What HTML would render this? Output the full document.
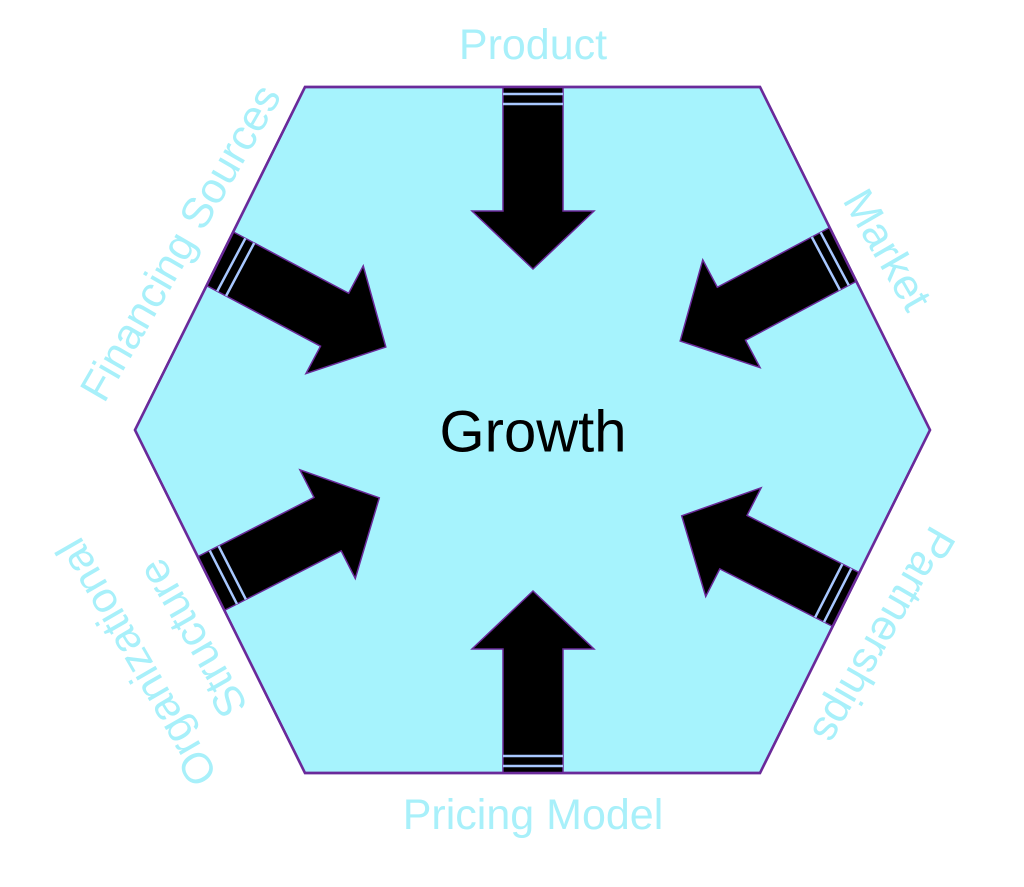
<!DOCTYPE html>
<html><head><meta charset="utf-8"><style>
html,body{margin:0;padding:0;background:#fff;}
svg{display:block;}
text{font-family:"Liberation Sans",sans-serif;}
.l{fill:#a8f0fa;font-size:43px;}
</style></head><body>
<svg width="1024" height="887" viewBox="0 0 1024 887" xmlns="http://www.w3.org/2000/svg">
<defs>
<clipPath id="hx"><polygon points="305,87 760,87 930,430 760,773 305,773 135,430"/></clipPath>
<g id="ar">
<path d="M-30,-15 L30,-15 L30,123 L61,123 L0,181 L-61,123 L-30,123 Z" fill="#000" stroke="#6a2a9a" stroke-width="1.5"/>
<line x1="-30" y1="6" x2="30" y2="6" stroke="#a8c8ff" stroke-width="2.5"/>
<line x1="-30" y1="16" x2="30" y2="16" stroke="#a8c8ff" stroke-width="2.5"/>
</g>
</defs>
<polygon points="305,87 760,87 930,430 760,773 305,773 135,430" fill="#a6f3fd" stroke="#6a2a9a" stroke-width="2.5"/>
<g clip-path="url(#hx)">
<use href="#ar" transform="translate(533,88)"/>
<use href="#ar" transform="translate(533,772) rotate(180)"/>
<use href="#ar" transform="translate(226,262) rotate(-62)"/>
<use href="#ar" transform="translate(840,256) rotate(62)"/>
<use href="#ar" transform="translate(218,580) rotate(-117)"/>
<use href="#ar" transform="translate(843,598) rotate(117)"/>
</g>
<polygon points="305,87 760,87 930,430 760,773 305,773 135,430" fill="none" stroke="#6a2a9a" stroke-width="2.5"/>
<text x="533" y="432" font-size="58" text-anchor="middle" dominant-baseline="central" fill="#000">Growth</text>
<text class="l" x="533" y="45" text-anchor="middle" dominant-baseline="central">Product</text>
<text class="l" x="533" y="815" text-anchor="middle" dominant-baseline="central">Pricing Model</text>
<text class="l" text-anchor="middle" dominant-baseline="central" transform="translate(181,243) rotate(-60)">Financing Sources</text>
<text class="l" text-anchor="middle" dominant-baseline="central" transform="translate(887,250) rotate(60)">Market</text>
<text class="l" text-anchor="middle" dominant-baseline="central" transform="translate(883,635) rotate(120)">Partnerships</text>
<text class="l" text-anchor="middle" dominant-baseline="central" transform="translate(137,662) rotate(-120)">Organizational</text>
<text class="l" text-anchor="middle" dominant-baseline="central" transform="translate(193,638) rotate(-120)">Structure</text>
</svg>
</body></html>
